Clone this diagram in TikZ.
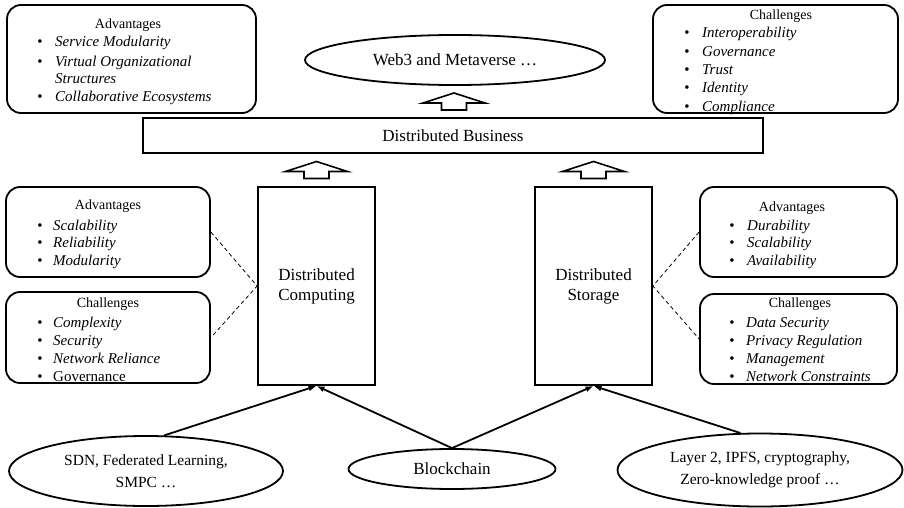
\documentclass[tikz,border=0pt]{standalone}
\usepackage{fontspec}
\setmainfont{Liberation Serif}
\usetikzlibrary{shapes.geometric,arrows.meta,calc}
\newcommand{\entry}[5]{%
  \node[bul] (#1b) at (#2,#4) {\textbullet};
  \node[itm] (#1) at (#3,#4) {#5};}
\begin{document}
\begin{tikzpicture}[x=1pt,y=-1pt,
  rbox/.style={draw, line width=1.8pt, rounded corners=14pt, inner sep=0pt},
  sbox/.style={draw, line width=1.8pt, inner sep=0pt, align=center, font=\fontsize{17}{20}\selectfont},
  oval/.style={draw, ellipse, line width=1.8pt, inner sep=0pt, align=center},
  ttl/.style={font=\fontsize{14}{16}\selectfont, inner sep=0pt, anchor=base},
  itm/.style={font=\fontsize{15}{18}\selectfont\itshape, inner sep=0pt, anchor=base west},
  bul/.style={font=\fontsize{15}{18}\selectfont, inner sep=0pt, anchor=base},
  dashlink/.style={line width=0.8pt, dash pattern=on 4pt off 3pt},
  link/.style={line width=1.8pt, -{Latex[length=8pt,width=6pt]}},
  blk/.style={draw, line width=1.6pt, fill=white, line join=miter},
  uparrow/.pic={\draw[blk] (0,-8.5) -- (31,1.5) -- (12.5,1.5) -- (12.5,8.5) -- (-12.5,8.5) -- (-12.5,1.5) -- (-31,1.5) -- cycle;}
]
\useasboundingbox (0,0) rectangle (904,508);
\fill[white] (0,0) rectangle (904,508);

% top boxes
\node[rbox, minimum width=249pt, minimum height=108pt] (tl) at (131.5,59) {};
\node[ttl] (tlt) at (128,28.5) {Advantages};
\entry{tl1}{40}{55}{47}{Service Modularity}
\entry{tl2}{40}{55}{66.5}{Virtual Organizational}
\node[itm] (tl3) at (55,83.5) {Structures};
\entry{tl4}{40}{55}{101.5}{Collaborative Ecosystems}

\node[rbox, minimum width=245pt, minimum height=108pt] (tr) at (775.5,59) {};
\node[ttl] (trt) at (781,20) {Challenges};
\entry{tr1}{687}{702}{38}{Interoperability}
\entry{tr2}{687}{702}{56.5}{Governance}
\entry{tr3}{687}{702}{75}{Trust}
\entry{tr4}{687}{702}{93}{Identity}
\entry{tr5}{687}{702}{111}{Compliance}

% web3 and business
\node[oval, minimum width=300pt, minimum height=50pt, font=\fontsize{17}{20}\selectfont] (web) at (455,60) {Web3 and Metaverse …};
\node[sbox, minimum width=620pt, minimum height=35pt] (biz) at (453,135.5) {Distributed Business};

% columns
\node[sbox, minimum width=117pt, minimum height=198pt] (comp) at (316.5,286) {Distributed\\Computing};
\node[sbox, minimum width=117pt, minimum height=198pt] (stor) at (593.5,286) {Distributed\\Storage};

% block arrows
\pic at ($(web.south)!0.5!(biz.north)$) {uparrow};
\pic at ($(biz.south -| comp.north)!0.5!(comp.north)$) {uparrow};
\pic at ($(biz.south -| stor.north)!0.5!(stor.north)$) {uparrow};

% left side boxes
\node[rbox, minimum width=204pt, minimum height=90pt] (la) at (108,232) {};
\node[ttl] (lat) at (108,209) {Advantages};
\entry{la1}{40}{53}{230}{Scalability}
\entry{la2}{40}{53}{247.5}{Reliability}
\entry{la3}{40}{53}{265}{Modularity}

\node[rbox, minimum width=204pt, minimum height=91pt] (lc) at (108,337.5) {};
\node[ttl] (lct) at (108,307) {Challenges};
\entry{lc1}{40}{53}{327}{Complexity}
\entry{lc2}{40}{53}{345}{Security}
\entry{lc3}{40}{53}{363}{Network Reliance}
\entry{lc4}{40}{53}{381}{\upshape Governance}

% right side boxes
\node[rbox, minimum width=197pt, minimum height=90pt] (ra) at (798.5,232) {};
\node[ttl] (rat) at (792,211) {Advantages};
\entry{ra1}{732}{747}{230}{Durability}
\entry{ra2}{732}{747}{247.5}{Scalability}
\entry{ra3}{732}{747}{265}{Availability}

\node[rbox, minimum width=197pt, minimum height=90pt] (rc) at (798.5,339) {};
\node[ttl] (rct) at (800,307) {Challenges};
\entry{rc1}{732}{746}{327}{Data Security}
\entry{rc2}{732}{746}{345}{Privacy Regulation}
\entry{rc3}{732}{746}{363}{Management}
\entry{rc4}{732}{746}{381}{Network Constraints}

% dashed links
\draw[dashlink] (la.east) -- (comp.west) -- (lc.east);
\draw[dashlink] (ra.west) -- (stor.east) -- (rc.west);

% bottom ellipses
\node[oval, minimum width=274pt, minimum height=70pt, font=\fontsize{15.5}{22}\selectfont] (sdn) at (146,471) {SDN, Federated Learning,\\SMPC …};
\node[oval, minimum width=207pt, minimum height=40pt, font=\fontsize{17}{20}\selectfont] (chain) at (452,469) {Blockchain};
\node[oval, minimum width=285pt, minimum height=73pt, font=\fontsize{15.5}{22}\selectfont] (lay) at (760,470) {Layer 2, IPFS, cryptography,\\Zero-knowledge proof …};

% connectors
\draw[link] (sdn.63) -- (comp.south);
\draw[link] (chain.north) -- (comp.south);
\draw[link] (chain.north) -- (stor.south);
\draw[link] (lay.118) -- (stor.south);
\end{tikzpicture}
\end{document}
